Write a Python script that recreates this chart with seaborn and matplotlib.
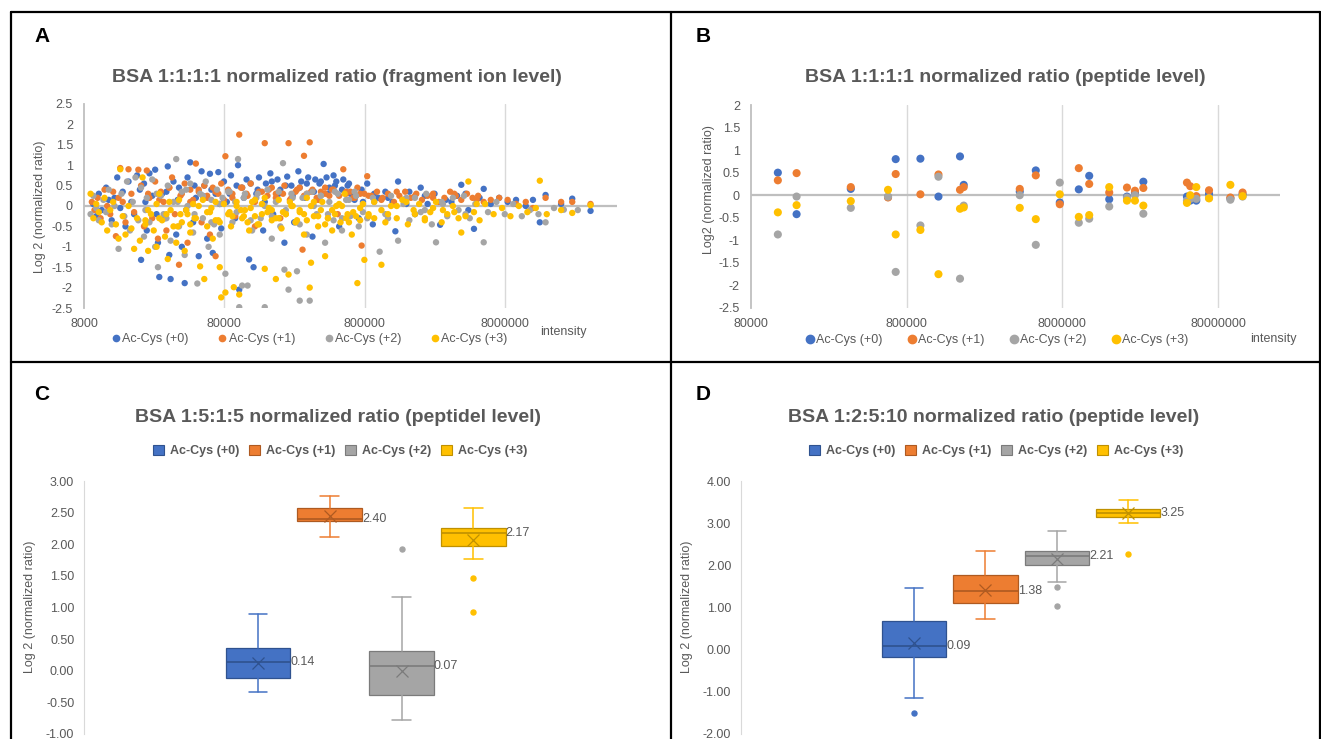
import numpy as np
import pandas as pd
import seaborn as sns
import matplotlib.pyplot as plt
from matplotlib.patches import Patch
from matplotlib.lines import Line2D
from matplotlib.ticker import FixedLocator, NullLocator, FuncFormatter

# ---- data ----
series = ['Ac-Cys (+0)', 'Ac-Cys (+1)', 'Ac-Cys (+2)', 'Ac-Cys (+3)']
colors = ['#4472C4', '#ED7D31', '#A5A5A5', '#FFC000']
dark_colors = ['#2F528F', '#AE5A21', '#7B7B7B', '#BF9000']

# panel A: fragment ion level (intensity, log2 ratio)
a0_int = [9.3e3, 9.8e3, 1.02e4, 1.07e4, 1.15e4, 1.2e4, 1.26e4, 1.32e4, 1.38e4, 1.45e4, 1.51e4, 1.58e4, 1.66e4, 1.74e4, 1.82e4, 1.91e4, 2.0e4,
          2.04e4, 2.14e4, 2.24e4, 2.34e4, 2.45e4, 2.57e4, 2.69e4, 2.75e4, 2.88e4, 3.02e4, 3.16e4, 3.24e4, 3.31e4, 3.47e4, 3.63e4, 3.8e4,
          3.98e4, 4.17e4, 4.37e4, 4.57e4, 4.79e4, 5.01e4, 5.25e4, 5.5e4, 5.75e4, 6.03e4, 6.31e4, 6.61e4, 6.92e4, 7.24e4, 7.59e4, 7.94e4,
          8.32e4, 8.91e4, 9.55e4, 1.0e5, 1.02e5, 1.07e5, 1.15e5, 1.2e5, 1.29e5, 1.35e5, 1.41e5, 1.51e5, 1.58e5, 1.7e5, 1.78e5, 1.91e5,
          2.0e5, 2.14e5, 2.24e5, 2.4e5, 2.51e5, 2.69e5, 2.82e5, 3.02e5, 3.16e5, 3.39e5, 3.55e5, 3.8e5, 4.07e5, 4.27e5, 4.47e5, 4.79e5,
          5.01e5, 5.25e5, 5.62e5, 6.03e5, 6.31e5, 6.76e5, 7.24e5, 7.59e5,
          8.32e5, 9.12e5, 1.0e6, 1.12e6, 1.26e6, 1.32e6, 1.38e6, 1.51e6, 1.66e6, 1.82e6, 2.0e6, 2.24e6, 2.51e6, 2.75e6, 3.02e6, 3.31e6,
          3.63e6, 3.89e6, 4.37e6, 4.79e6, 5.25e6, 5.62e6, 6.31e6, 7.24e6, 8.32e6, 9.55e6, 1.12e7, 1.26e7, 1.41e7, 1.55e7, 2.0e7, 2.4e7, 3.24e7]
a0_ratio = [0.05, -0.25, 0.3, -0.1, 0.45, 0.15, -0.35, 0.2, 0.7, -0.05, 0.35, -0.5, 0.6, 0.1, -0.2, 0.75, 0.4,
            -1.32, 0.55, -0.6, 0.8, 0.25, 0.89, -0.9, -1.74, 0.3, -0.3, 0.97, -1.2, -1.79, 0.6, -0.7, 0.45,
            -1.0, -1.89, 0.7, 1.07, -0.4, 0.2, -1.23, 0.85, 0.5, -0.8, 0.79, -1.15, 0.3, 0.83, -0.55, 0.6,
            0.1, 0.75, -0.3, 1.0, -2.05, 0.45, 0.65, -1.31, -1.5, 0.3, 0.7, -0.6, 0.55, 0.8, -0.2, 0.65,
            0.4, -0.9, 0.72, 0.5, -0.4, 0.85, 0.6, 0.2, 0.7, -0.75, 0.65, 0.55, 1.03, 0.7, 0.45, 0.75,
            0.6, -0.5, 0.65, 0.5, 0.3, 0.15, -0.3, 0.4,
            0.55, -0.45, 0.2, 0.35, 0.1, -0.62, 0.6, 0.15, 0.35, -0.2, 0.45, 0.05, 0.3, -0.46, 0.15, 0.1,
            0.25, 0.52, -0.1, -0.56, 0.2, 0.42, 0.05, 0.2, 0.1, 0.15, 0.0, 0.15, -0.4, 0.27, 0.05, 0.18, -0.12]

a1_int = [9.1e3, 9.5e3, 1.0e4, 1.05e4, 1.12e4, 1.17e4, 1.23e4, 1.29e4, 1.35e4, 1.41e4, 1.45e4, 1.51e4, 1.58e4, 1.66e4, 1.74e4, 1.82e4, 1.95e4,
          2.04e4, 2.14e4, 2.24e4, 2.34e4, 2.45e4, 2.57e4, 2.69e4, 2.82e4, 2.95e4, 3.09e4, 3.24e4, 3.39e4, 3.55e4, 3.8e4, 3.98e4,
          4.17e4, 4.37e4, 4.57e4, 4.79e4, 5.01e4, 5.25e4, 5.5e4, 5.75e4, 6.03e4, 6.31e4, 6.61e4, 6.92e4, 7.24e4, 7.59e4, 8.13e4,
          8.51e4, 9.12e4, 9.55e4, 1.02e5, 1.07e5, 1.15e5, 1.23e5, 1.32e5, 1.41e5, 1.55e5, 1.62e5, 1.74e5, 1.86e5, 2.0e5, 2.14e5,
          2.29e5, 2.4e5, 2.57e5, 2.75e5, 2.88e5, 2.95e5, 3.09e5, 3.24e5, 3.39e5, 3.63e5, 3.89e5, 4.17e5, 4.47e5, 4.79e5, 5.13e5,
          5.62e5, 5.89e5, 6.31e5, 6.76e5, 7.08e5, 7.59e5, 7.94e5,
          8.32e5, 8.91e5, 9.77e5, 1.07e6, 1.17e6, 1.29e6, 1.41e6, 1.55e6, 1.7e6, 1.86e6, 2.04e6, 2.24e6, 2.45e6, 2.69e6, 2.95e6,
          3.24e6, 3.55e6, 3.89e6, 4.27e6, 4.68e6, 5.13e6, 5.62e6, 6.31e6, 7.24e6, 8.32e6, 9.55e6, 1.12e7, 1.26e7, 1.55e7, 2.0e7, 2.4e7, 3.24e7]
a1_ratio = [0.1, -0.1, 0.2, -0.3, 0.4, 0.0, -0.2, 0.35, -0.74, 0.2, 0.93, 0.1, -0.4, 0.9, 0.3, -0.15, 0.89,
            0.5, -0.5, 0.87, 0.2, -0.3, 0.6, -0.8, 0.35, 0.1, -0.6, 0.45, 0.7, -0.2, -1.44, 0.3,
            0.55, -0.9, 0.4, 0.15, 1.04, 0.35, -0.4, 0.5, 0.25, -0.7, 0.45, -1.23, 0.3, 0.55, 1.22,
            0.4, 0.2, -0.25, 1.75, 0.45, 0.3, 0.55, -0.5, 0.35, 1.54, 0.25, 0.45, 0.3, -0.3, 0.5,
            1.54, 0.2, 0.35, 0.45, -1.07, 1.23, 0.3, 1.56, 0.4, 0.2, 0.35, 0.45, 0.25, 0.4, -0.2,
            0.9, 0.3, 0.35, 0.2, 0.45, -0.97, 0.3,
            0.73, 0.25, 0.35, 0.2, 0.3, 0.1, 0.25, 0.35, 0.2, 0.3, 0.15, 0.25, 0.3, 0.1, 0.2,
            0.35, 0.25, 0.15, 0.3, 0.2, 0.25, 0.1, 0.15, 0.2, 0.15, 0.05, 0.1, -0.05, 0.2, 0.1, 0.1, 0.05]

a2_int = [8.91e3, 9.33e3, 9.77e3, 1.02e4, 1.1e4, 1.15e4, 1.2e4, 1.26e4, 1.32e4, 1.41e4, 1.48e4, 1.55e4, 1.62e4, 1.7e4, 1.78e4, 1.86e4, 1.95e4,
          2.04e4, 2.14e4, 2.24e4, 2.34e4, 2.45e4, 2.57e4, 2.69e4, 2.82e4, 2.95e4, 3.16e4, 3.31e4, 3.47e4, 3.63e4, 3.8e4, 3.98e4,
          4.17e4, 4.37e4, 4.57e4, 4.79e4, 5.13e4, 5.37e4, 5.62e4, 5.89e4, 6.17e4, 6.46e4, 6.76e4, 7.08e4, 7.41e4, 7.76e4, 8.13e4,
          8.51e4, 9.12e4, 9.55e4, 1.0e5, 1.02e5, 1.07e5, 1.12e5, 1.17e5, 1.26e5, 1.35e5, 1.45e5, 1.55e5, 1.62e5, 1.74e5, 1.86e5,
          2.0e5, 2.09e5, 2.14e5, 2.29e5, 2.4e5, 2.57e5, 2.63e5, 2.75e5, 2.88e5, 3.09e5, 3.24e5, 3.39e5, 3.63e5, 3.89e5, 4.17e5,
          4.47e5, 4.79e5, 5.13e5, 5.5e5, 5.89e5, 6.31e5, 6.76e5, 7.24e5, 7.76e5,
          8.32e5, 9.12e5, 1.02e6, 1.12e6, 1.23e6, 1.38e6, 1.51e6, 1.66e6, 1.82e6, 2.0e6, 2.19e6, 2.4e6, 2.57e6, 2.82e6, 3.09e6,
          3.39e6, 3.72e6, 4.07e6, 4.47e6, 4.9e6, 5.62e6, 6.03e6, 6.92e6, 7.94e6, 9.12e6, 1.05e7, 1.2e7, 1.38e7, 1.55e7, 1.78e7, 2.09e7, 2.63e7]
a2_ratio = [-0.2, 0.25, -0.05, -0.35, 0.15, -0.15, 0.4, -0.45, 0.0, -1.05, 0.3, -0.25, 0.6, -0.6, 0.1, 0.7, -0.35,
            0.45, -0.75, 0.2, -0.4, 0.65, -1.0, -1.5, 0.25, -0.2, 0.5, -0.85, 0.1, 1.15, -0.5, 0.35,
            -1.2, 0.0, 0.55, -0.65, -1.9, 0.3, -0.3, 0.6, -1.0, 0.15, -0.45, 0.4, -0.7, 0.2, -1.66,
            0.35, -0.4, 0.1, 1.15, -2.48, -1.95, 0.3, -1.95, -0.6, 0.2, -0.3, -2.48, 0.4, -0.8, 0.1,
            -0.5, 1.05, -1.56, -2.05, 0.3, -0.4, -1.6, -2.32, 0.2, -0.7, -2.32, 0.35, -0.2, 0.25, -0.9,
            0.1, -0.35, 0.3, -0.6, 0.15, -0.25, 0.35, -0.5, 0.05,
            -0.3, 0.2, -1.12, -0.2, 0.25, -0.85, 0.05, -0.35, 0.2, -0.15, 0.3, -0.45, -0.89, 0.1, -0.25,
            0.2, -0.1, 0.25, -0.3, 0.05, -0.89, -0.15, 0.1, -0.2, 0.05, -0.25, -0.1, -0.2, -0.4, -0.05, -0.09, -0.1]

a3_int = [8.91e3, 9.33e3, 9.77e3, 1.02e4, 1.07e4, 1.12e4, 1.17e4, 1.23e4, 1.29e4, 1.35e4, 1.41e4, 1.45e4, 1.51e4, 1.58e4, 1.66e4, 1.74e4, 1.82e4, 1.91e4, 2.0e4,
          2.09e4, 2.19e4, 2.29e4, 2.4e4, 2.51e4, 2.63e4, 2.75e4, 2.88e4, 3.02e4, 3.16e4, 3.31e4, 3.47e4, 3.63e4, 3.8e4, 3.98e4,
          4.17e4, 4.37e4, 4.57e4, 4.79e4, 5.01e4, 5.37e4, 5.75e4, 6.03e4, 6.31e4, 6.61e4, 6.92e4, 7.24e4, 7.41e4, 7.59e4, 8.13e4,
          8.51e4, 8.91e4, 9.33e4, 9.77e4, 1.02e5, 1.07e5, 1.12e5, 1.2e5, 1.26e5, 1.32e5, 1.41e5, 1.48e5, 1.55e5, 1.62e5, 1.74e5,
          1.86e5, 1.95e5, 2.04e5, 2.19e5, 2.29e5, 2.4e5, 2.57e5, 2.75e5, 2.95e5, 3.09e5, 3.24e5, 3.31e5, 3.47e5, 3.72e5, 3.98e5,
          4.17e5, 4.37e5, 4.68e5, 5.01e5, 5.37e5, 5.75e5, 6.03e5, 6.46e5, 7.08e5, 7.41e5, 7.94e5,
          8.51e5, 9.33e5, 1.05e6, 1.12e6, 1.23e6, 1.35e6, 1.48e6, 1.62e6, 1.78e6, 1.95e6, 2.14e6, 2.34e6, 2.57e6, 2.82e6, 3.09e6,
          3.39e6, 3.72e6, 3.89e6, 4.37e6, 4.79e6, 5.25e6, 5.75e6, 6.61e6, 7.59e6, 8.71e6, 1.0e7, 1.15e7, 1.32e7, 1.41e7, 1.58e7, 2.0e7, 2.4e7, 3.24e7]
a3_ratio = [0.3, -0.3, 0.05, -0.15, -0.4, 0.2, -0.6, -0.1, 0.1, -0.45, -0.8, 0.9, -0.25, -0.7, 0.0, -0.55, -1.05, -0.3, -0.85,
            0.7, -0.45, -1.1, -0.2, -0.6, -1.0, 0.3, -0.35, -0.75, -1.3, -0.1, -0.5, -0.9, 0.15, -0.4,
            -1.1, -0.2, -0.65, 0.05, -0.3, -1.48, -1.79, -0.5, -0.15, -0.8, 0.1, -0.35, -1.5, -2.24, -2.12,
            -0.2, -0.5, -1.99, 0.0, -2.17, -0.3, -0.1, -0.6, 0.1, -0.25, -0.45, 0.05, -1.54, -0.15, -0.35,
            -1.79, 0.15, -0.55, -0.2, -1.68, 0.0, -0.4, -0.1, -0.7, 0.2, -2.0, -1.39, -0.25, -0.5, 0.1,
            -1.23, -0.3, -0.6, 0.0, -0.4, 0.3, -0.2, -0.7, -1.89, -0.35, -1.32,
            -0.2, 0.1, -1.44, -0.4, 0.0, -0.3, 0.15, -0.45, -0.1, 0.05, -0.35, -0.15, 0.1, -0.4, -0.2,
            0.0, -0.3, -0.65, 0.6, -0.15, -0.35, 0.05, -0.2, -0.05, -0.25, 0.0, -0.15, -0.05, 0.62, -0.2, -0.1, -0.17, 0.02]

# dense core of the fragment cloud (two interleaved intensity grids)
core_int_1 = [2.19e4, 2.63e4, 3.09e4, 3.72e4, 4.27e4, 4.9e4, 5.62e4, 6.46e4, 7.41e4, 8.71e4, 9.77e4, 1.1e5, 1.23e5,
              1.38e5, 1.55e5, 1.74e5, 1.95e5, 2.19e5, 2.45e5, 2.75e5, 3.09e5, 3.47e5, 3.89e5, 4.37e5, 4.9e5, 5.5e5,
              6.17e5, 6.92e5, 7.76e5, 9.33e5, 1.17e6, 1.58e6, 2.14e6, 2.88e6, 4.17e6]
core_int_2 = [2.29e4, 2.75e4, 3.24e4, 3.89e4, 4.57e4, 5.25e4, 6.03e4, 6.92e4, 7.94e4, 9.12e4, 1.05e5, 1.17e5, 1.32e5,
              1.48e5, 1.66e5, 1.86e5, 2.09e5, 2.34e5, 2.63e5, 2.95e5, 3.31e5, 3.72e5, 4.17e5, 4.68e5, 5.25e5, 5.89e5,
              6.61e5, 7.41e5, 8.51e5, 1.05e6, 1.35e6, 1.82e6, 2.45e6, 3.47e6, 5.01e6]
a0_core = [0.1, -0.2, 0.35, 0.15, -0.1, 0.5, 0.25, 0.4, 0.05, 0.3, 0.5, 0.2, 0.55, 0.4, 0.1, 0.6, 0.3, 0.5,
           0.25, 0.45, 0.55, 0.35, 0.6, 0.3, 0.5, 0.4, 0.55, 0.25, 0.1, 0.3, 0.2, 0.05, 0.25, 0.1, 0.3]
a1_core = [0.3, 0.15, 0.45, 0.25, 0.1, 0.4, 0.2, 0.35, 0.15, 0.3, 0.45, 0.25, 0.1, 0.35, 0.4, 0.2, 0.3, 0.15,
           0.4, 0.25, 0.35, 0.15, 0.3, 0.4, 0.25, 0.35, 0.2, 0.3, 0.25, 0.15, 0.35, 0.25, 0.2, 0.3, 0.15]
a2_core = [-0.1, 0.3, -0.3, 0.1, 0.4, -0.2, 0.25, -0.4, 0.05, 0.35, -0.15, 0.2, -0.35, 0.3, 0.0, -0.25, 0.35, -0.1,
           0.2, -0.45, 0.3, 0.0, 0.25, -0.2, 0.35, -0.3, 0.15, 0.25, -0.15, 0.1, -0.3, 0.2, -0.1, 0.05, -0.2]
a3_core = [-0.1, -0.3, 0.1, -0.2, -0.45, 0.0, -0.15, -0.35, 0.05, -0.25, -0.1, -0.4, 0.15, -0.2, -0.05, -0.3, -0.15,
           0.1, -0.35, -0.2, 0.0, -0.25, -0.45, -0.1, 0.05, -0.3, -0.15, -0.05, -0.25, -0.1, 0.0, -0.2, -0.05, -0.15, 0.05]
a3_core_b = [-0.35, 0.05, -0.2, -0.5, -0.1, -0.3, 0.15, -0.05, -0.4, -0.15, 0.1, -0.25, -0.05, -0.45, 0.2, -0.1, -0.3,
             -0.2, 0.0, -0.15, -0.35, 0.1, -0.1, -0.3, -0.2, 0.0, -0.4, -0.25, 0.05, -0.3, -0.2, 0.1, -0.3, -0.1, -0.25]

# panel B: peptide level, one intensity per peptide
b_int = [1.19e5, 1.57e5, 3.5e5, 6.07e5, 6.8e5, 9.8e5, 1.28e6, 1.76e6, 1.86e6, 4.26e6, 5.4e6, 7.7e6,
         1.02e7, 1.19e7, 1.6e7, 2.08e7, 2.34e7, 2.65e7, 5.05e7, 5.3e7, 5.8e7, 7.0e7, 9.6e7, 1.15e8]
b0_ratio = [0.5, -0.42, 0.14, -0.04, 0.8, 0.81, -0.03, 0.86, 0.23, 0.08, 0.55, -0.16,
            0.13, 0.43, -0.09, -0.03, 0.05, 0.3, -0.03, -0.12, -0.12, 0.03, -0.07, 0.02]
b1_ratio = [0.33, 0.49, 0.18, -0.05, 0.47, 0.02, 0.46, 0.12, 0.18, 0.14, 0.44, -0.2,
            0.6, 0.25, 0.06, 0.17, 0.1, 0.16, 0.28, 0.2, -0.02, 0.11, -0.05, 0.06]
b2_ratio = [-0.87, -0.03, -0.28, -0.03, -1.7, -0.67, 0.41, -1.85, -0.23, 0.0, -1.1, 0.28,
            -0.61, -0.52, -0.25, -0.05, 0.0, -0.41, -0.12, -0.08, -0.08, -0.06, -0.1, -0.03]
b3_ratio = [-0.38, -0.22, -0.13, 0.12, -0.87, -0.77, -1.75, -0.3, -0.27, -0.28, -0.53, 0.02,
            -0.48, -0.44, 0.18, -0.12, -0.12, -0.23, -0.17, 0.0, 0.18, -0.07, 0.23, -0.02]

# panel C: BSA 1:5:1:5 box statistics
c_q1 = [-0.12, 2.37, -0.38, 1.97]
c_median = [0.14, 2.40, 0.07, 2.17]
c_q3 = [0.36, 2.58, 0.31, 2.25]
c_whislo = [-0.34, 2.12, -0.78, 1.76]
c_whishi = [0.90, 2.76, 1.16, 2.58]
c_mean = [0.13, 2.44, -0.01, 2.07]
c_fliers = [[], [], [1.92], [1.46, 0.93]]

# panel D: BSA 1:2:5:10 box statistics
d_q1 = [-0.17, 1.10, 2.01, 3.14]
d_median = [0.09, 1.38, 2.21, 3.25]
d_q3 = [0.69, 1.76, 2.33, 3.33]
d_whislo = [-1.14, 0.72, 1.61, 3.0]
d_whishi = [1.47, 2.34, 2.82, 3.56]
d_mean = [0.16, 1.42, 2.14, 3.23]
d_fliers = [[-1.51], [], [1.48, 1.04], [2.26]]

# ---- style ----
sns.set_style('white')
plt.rcParams['font.family'] = ['Liberation Sans', 'DejaVu Sans']
TXT = '#595959'
W, H = 1321, 739

fig = plt.figure(figsize=(W / 100, H / 100), dpi=100)


def px_axes(x0, y0, x1, y1):
    return fig.add_axes([x0 / W, 1 - y1 / H, (x1 - x0) / W, (y1 - y0) / H])


def fig_text(x, y, s, **kw):
    fig.text(x / W, 1 - y / H, s, **kw)


def fig_line(x0, y0, x1, y1):
    fig.add_artist(Line2D([x0 / W, x1 / W], [1 - y0 / H, 1 - y1 / H],
                          transform=fig.transFigure, color='black', lw=1.6))


def long_frame(xs, ys):
    parts = [pd.DataFrame({'intensity': x, 'ratio': y, 'series': name})
             for name, x, y in zip(series, xs, ys)]
    return pd.concat(parts, ignore_index=True)


def style_scatter(ax, xlim, xticks, ylim, ystep):
    ax.set_xscale('log')
    ax.set_xlim(*xlim)
    ax.set_ylim(*ylim)
    ax.xaxis.set_major_locator(FixedLocator(xticks))
    ax.xaxis.set_minor_locator(NullLocator())
    ax.xaxis.set_major_formatter(FuncFormatter(lambda v, p: f'{v:.0f}'))
    ax.set_yticks(np.round(np.arange(ylim[0], ylim[1] + 1e-6, ystep), 2))
    ax.yaxis.set_major_formatter(FuncFormatter(lambda v, p: f'{v:g}'))
    for s in ['top', 'right', 'bottom']:
        ax.spines[s].set_visible(False)
    ax.spines['left'].set_color('#BFBFBF')
    ax.spines['left'].set_linewidth(1.3)
    ax.axhline(0, color='#BFBFBF', lw=1.6, zorder=1)
    for t in xticks[1:]:
        ax.axvline(t, color='#D9D9D9', lw=1, zorder=0)
    ax.tick_params(axis='both', length=0, labelsize=9, colors=TXT)
    ax.tick_params(axis='y', pad=8)
    ax.tick_params(axis='x', pad=7)
    ax.set_xlabel('')
    ax.set_ylabel('')
    ax.set_facecolor('white')


palette = dict(zip(series, colors))

# ---- panel A ----
ax_a = px_axes(84, 104, 617, 308)
df_a = long_frame(
    [a0_int + core_int_1, a1_int + core_int_2, a2_int + core_int_1, a3_int + core_int_2 + core_int_1],
    [a0_ratio + a0_core, a1_ratio + a1_core, a2_ratio + a2_core, a3_ratio + a3_core + a3_core_b])
ax_a.set_xscale('log')
sns.scatterplot(data=df_a, x='intensity', y='ratio', hue='series', palette=palette,
                s=21, linewidth=0, legend=False, ax=ax_a, zorder=3)
style_scatter(ax_a, (8000, 5e7), [8000, 80000, 800000, 8000000], (-2.5, 2.5), 0.5)

# ---- panel B ----
ax_b = px_axes(751, 105, 1280, 308)
df_b = long_frame([b_int] * 4, [b0_ratio, b1_ratio, b2_ratio, b3_ratio])
ax_b.set_xscale('log')
sns.scatterplot(data=df_b, x='intensity', y='ratio', hue='series', palette=palette,
                s=34, linewidth=0, legend=False, ax=ax_b, zorder=3)
style_scatter(ax_b, (8e4, 2e8), [80000, 800000, 8000000, 80000000], (-2.5, 2.0), 0.5)


# ---- panels C, D ----
def box_panel(ax, q1, med, q3, lo, hi, mean, fliers, ylim, ystep):
    for i in range(4):
        stats = [dict(q1=q1[i], med=med[i], q3=q3[i], whislo=lo[i], whishi=hi[i],
                      mean=mean[i], fliers=fliers[i])]
        c, dc = colors[i], dark_colors[i]
        ax.bxp(stats, positions=[i], widths=0.9, capwidths=0.26, patch_artist=True,
               showmeans=True, manage_ticks=False,
               boxprops=dict(facecolor=c, edgecolor=dc, lw=0.9),
               medianprops=dict(color=dc, lw=1.2),
               whiskerprops=dict(color=c, lw=1.1),
               capprops=dict(color=c, lw=1.1),
               meanprops=dict(marker='x', markeredgecolor=dc, markersize=8, markeredgewidth=0.9),
               flierprops=dict(marker='o', markerfacecolor=c, markeredgecolor=c, markersize=3.6))
        ax.text(i + 0.45, med[i], f'{med[i]:.2f}', ha='left', va='center',
                fontsize=9, color=TXT)
    ax.set_xlim(-2.42, 5.43)
    ax.set_ylim(*ylim)
    ax.set_xticks([])
    ax.set_yticks(np.round(np.arange(ylim[0], ylim[1] + 1e-6, ystep), 2))
    ax.yaxis.set_major_formatter(FuncFormatter(lambda v, p: f'{v:.2f}'))
    for s in ['top', 'right', 'bottom']:
        ax.spines[s].set_visible(False)
    ax.spines['left'].set_color('#D9D9D9')
    ax.tick_params(axis='y', length=0, labelsize=9, colors=TXT, pad=7)
    ax.set_facecolor('white')


ax_c = px_axes(84, 481, 648, 734)
box_panel(ax_c, c_q1, c_median, c_q3, c_whislo, c_whishi, c_mean, c_fliers, (-1.0, 3.0), 0.5)

ax_d = px_axes(741, 481, 1302, 734)
box_panel(ax_d, d_q1, d_median, d_q3, d_whislo, d_whishi, d_mean, d_fliers, (-2.0, 4.0), 1.0)

# ---- titles, labels, legends ----
title_kw = dict(ha='center', va='center', fontsize=14, fontweight='bold', color=TXT)
fig_text(337, 77, 'BSA 1:1:1:1 normalized ratio (fragment ion level)', **title_kw)
fig_text(1005, 77, 'BSA 1:1:1:1 normalized ratio (peptide level)', **title_kw)
fig_text(338, 417, 'BSA 1:5:1:5 normalized ratio (peptidel level)', **title_kw)
fig_text(994, 417, 'BSA 1:2:5:10 normalized ratio (peptide level)', **title_kw)

letter_kw = dict(ha='center', va='center', fontsize=15, fontweight='bold', color='black')
fig_text(42, 37, 'A', **letter_kw)
fig_text(703, 37, 'B', **letter_kw)
fig_text(42, 395, 'C', **letter_kw)
fig_text(703, 395, 'D', **letter_kw)

ylab_kw = dict(ha='center', va='center', rotation=90, fontsize=9, color=TXT)
fig_text(40, 207, 'Log 2 (normalized ratio)', **ylab_kw)
fig_text(709, 190, 'Log2 (normalized ratio)', **ylab_kw)
fig_text(30, 607, 'Log 2 (normalized ratio)', **ylab_kw)
fig_text(687, 607, 'Log 2 (normalized ratio)', **ylab_kw)

fig_text(563, 332, 'intensity', ha='center', va='center', fontsize=9, color=TXT)
fig_text(1273, 339, 'intensity', ha='center', va='center', fontsize=9, color=TXT)

dot_a = [Line2D([], [], ls='', marker='o', color=c, markersize=4.5) for c in colors]
fig.legend(dot_a, series, loc='center', bbox_to_anchor=(310 / W, 1 - 339 / H), ncol=4,
           frameon=False, fontsize=9, labelcolor=TXT, handlelength=0.6, handletextpad=0.2,
           columnspacing=2.4, borderpad=0, borderaxespad=0)
dot_b = [Line2D([], [], ls='', marker='o', color=c, markersize=6) for c in colors]
fig.legend(dot_b, series, loc='center', bbox_to_anchor=(997 / W, 1 - 340 / H), ncol=4,
           frameon=False, fontsize=9, labelcolor=TXT, handlelength=0.6, handletextpad=0.15,
           columnspacing=2.1, borderpad=0, borderaxespad=0)

for cx in (340, 996):
    sq = [Patch(facecolor=c, edgecolor=dc, lw=0.8) for c, dc in zip(colors, dark_colors)]
    fig.legend(sq, series, loc='center', bbox_to_anchor=(cx / W, 1 - 451 / H), ncol=4,
               frameon=False, prop=dict(size=9, weight='bold'), labelcolor=TXT,
               handlelength=0.88, handleheight=0.88, handletextpad=0.48,
               columnspacing=0.78, borderpad=0, borderaxespad=0)

# ---- panel borders ----
fig_line(11, 12, 1320, 12)
fig_line(11, 12, 11, 739)
fig_line(1320, 12, 1320, 739)
fig_line(671, 12, 671, 739)
fig_line(11, 362, 1320, 362)

fig.savefig('out.png', dpi=100)
